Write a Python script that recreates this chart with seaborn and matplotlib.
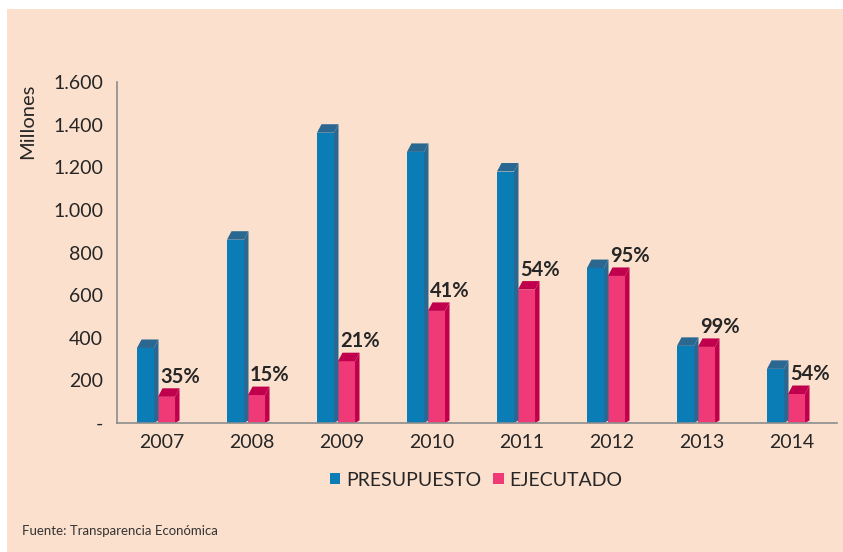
import numpy as np
import pandas as pd
import matplotlib
matplotlib.use('Agg')
import matplotlib.pyplot as plt
import seaborn as sns
from matplotlib.patches import Polygon, Rectangle
from matplotlib.ticker import FuncFormatter

anios = ['2007', '2008', '2009', '2010', '2011', '2012', '2013', '2014']
presupuesto = [352, 860, 1362, 1272, 1180, 727, 362, 254]
ejecutado = [123, 131, 290, 526, 626, 690, 357, 136]
porcentajes = ['35%', '15%', '21%', '41%', '54%', '95%', '99%', '54%']

azul, azul_osc = '#0A7DB6', '#2A6892'
rojo, rojo_osc = '#F03A78', '#C0004C'
fondo = '#FCE0CE'

df = pd.DataFrame({
    'anio': anios * 2,
    'valor': presupuesto + ejecutado,
    'serie': ['PRESUPUESTO'] * len(anios) + ['EJECUTADO'] * len(anios),
})

sns.set_style('white')
plt.rcParams['font.family'] = ['Lato', 'DejaVu Sans']

fig = plt.figure(figsize=(8.43, 5.52), dpi=100)
fig.patch.set_facecolor('white')
fig.patches.append(Rectangle((7 / 843, 0), 1, 1 - 9 / 552, transform=fig.transFigure,
                             facecolor=fondo, edgecolor='none', zorder=-10))
ax = fig.add_axes([117 / 843, 1 - 423 / 552, 720 / 843, 341 / 552])
ax.set_facecolor('none')

sns.barplot(data=df, x='anio', y='valor', hue='serie', palette=[azul, rojo],
            width=0.467, gap=0.19, saturation=1, edgecolor='none', ax=ax)

ax.set_xlim(-0.5, 7.5)
ax.set_ylim(0, 1600)
ax.set_yticks(range(0, 1601, 200))
ax.yaxis.set_major_formatter(FuncFormatter(
    lambda v, p: '-' if v == 0 else f'{int(v):,}'.replace(',', '.')))

# efecto 3D: caras superior y lateral
px_x = 8 / 720
px_y = 1600 / 341
dx, dy = 4.5 * px_x, 8.5 * px_y
oscuros = [azul_osc, rojo_osc]
for cont, osc in zip(ax.containers, oscuros):
    for bar in cont:
        bar.set_x(bar.get_x() - 6 * px_x)
        x0 = bar.get_x()
        x1 = x0 + bar.get_width()
        h = bar.get_height()
        top = Polygon([(x0, h), (x1, h), (x1 + dx, h + dy), (x0 + dx, h + dy)],
                      closed=True, facecolor=osc, edgecolor='none', zorder=3)
        side = Polygon([(x1, 0), (x1, h), (x1 + dx, h + dy), (x1 + dx, dy * 0.3)],
                       closed=True, facecolor=osc, edgecolor='none', zorder=3)
        ax.add_patch(top)
        ax.add_patch(side)
        bar.set_zorder(3)

# etiquetas de porcentaje sobre barras ejecutadas
for bar, txt in zip(ax.containers[1], porcentajes):
    ax.annotate(txt, xy=(bar.get_x(), bar.get_height()), xytext=(1.5, 10),
                textcoords='offset points', ha='left', va='baseline',
                fontsize=14.5, fontweight='bold', color='#262626', zorder=5)

for s in ['top', 'right']:
    ax.spines[s].set_visible(False)
for s in ['left', 'bottom']:
    ax.spines[s].set_color('#8C8C8C')
    ax.spines[s].set_linewidth(1.2)
    ax.spines[s].set_zorder(4)

ax.set_xticks(np.arange(-0.5, 8, 1), minor=True)
ax.tick_params(axis='x', which='major', length=0, pad=8, labelsize=14, labelcolor='#262626')
ax.tick_params(axis='x', which='minor', length=5, width=1.2, color='#8C8C8C', direction='out')
ax.tick_params(axis='y', length=5, width=1.2, color='#8C8C8C', direction='out',
               labelsize=14, labelcolor='#262626', pad=5)

ax.set_xlabel('')
ax.set_ylabel('Millones', fontsize=14.5, color='#262626')
ax.yaxis.set_label_coords(-0.113, 0.885)

handles, labels = ax.get_legend_handles_labels()
ax.get_legend().remove()
fig.legend(handles, labels, loc='center', bbox_to_anchor=(476 / 843, 1 - 480 / 552),
           ncol=2, frameon=False, fontsize=14, handlelength=0.55, handleheight=0.55,
           handletextpad=0.3, columnspacing=0.6, labelcolor='#262626')

fig.text(22 / 843, 1 - 531 / 552, 'Fuente: Transparencia Económica',
         fontsize=9.5, color='#333333', va='center', ha='left')

fig.savefig('out.png', dpi=100, facecolor=fig.get_facecolor())
